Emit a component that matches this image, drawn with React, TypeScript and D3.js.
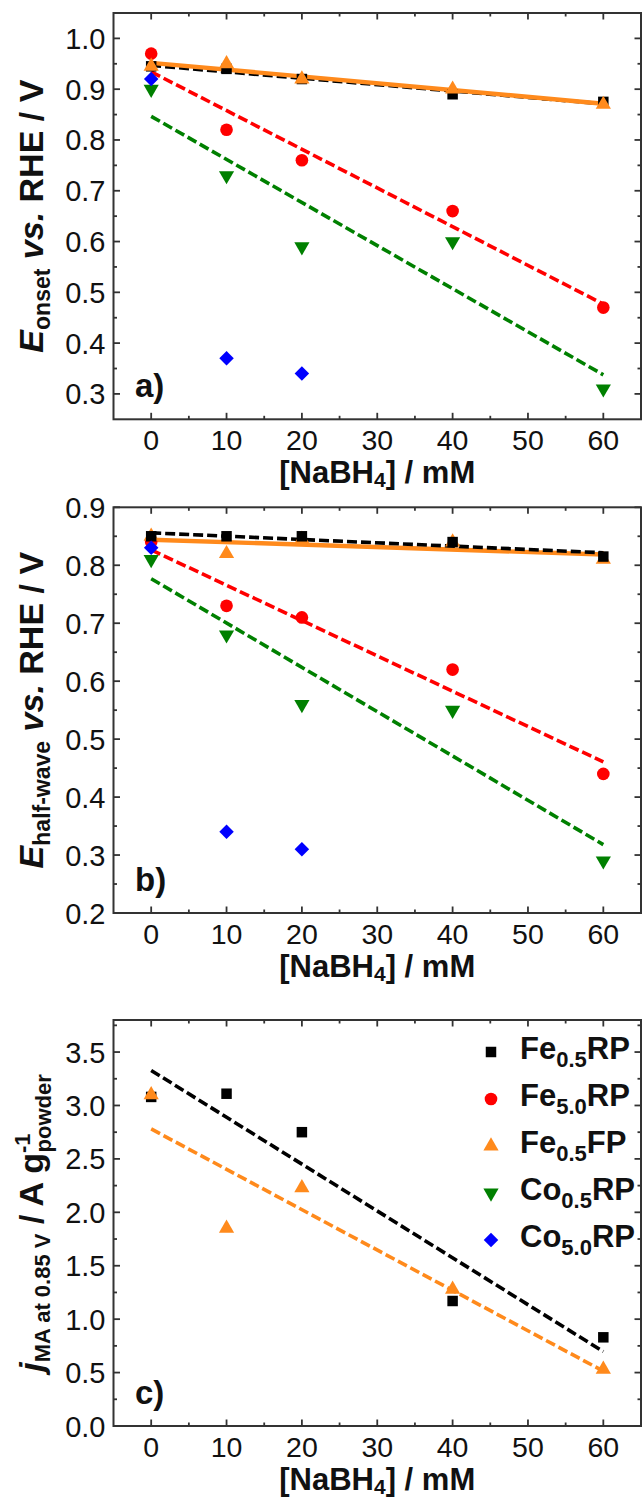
import React from "react";
import * as d3 from "d3";

// ---------- data ----------
const concentrations = [0, 10, 20, 40, 60];
const concentrationsCo50 = [0, 10, 20];

// a) onset potential (V vs RHE)
const onsetFe05RP = [0.945, 0.94, 0.92, 0.89, 0.875];
const onsetFe50RP = [0.97, 0.82, 0.76, 0.66, 0.47];
const onsetFe05FP = [0.945, 0.95, 0.92, 0.9, 0.87];
const onsetCo05RP = [0.9, 0.73, 0.59, 0.6, 0.31];
const onsetCo50RP = [0.92, 0.37, 0.34];

// b) half-wave potential (V vs RHE)
const halfFe05RP = [0.85, 0.85, 0.85, 0.84, 0.815];
const halfFe50RP = [0.84, 0.73, 0.71, 0.62, 0.44];
const halfFe05FP = [0.85, 0.82, 0.845, 0.84, 0.81];
const halfCo05RP = [0.81, 0.68, 0.56, 0.55, 0.29];
const halfCo50RP = [0.83, 0.34, 0.31];

// c) mass activity at 0.85 V (A/g)
const massFe05RP = [3.08, 3.11, 2.75, 1.17, 0.83];
const massFe05FP = [3.1, 1.85, 2.23, 1.28, 0.53];

const xTicks = [0, 10, 20, 30, 40, 50, 60];
const xMinorTicks = [5, 15, 25, 35, 45, 55];
const yTicksA = [0.3, 0.4, 0.5, 0.6, 0.7, 0.8, 0.9, 1.0];
const yMinorA = [0.35, 0.45, 0.55, 0.65, 0.75, 0.85, 0.95];
const yTicksB = [0.2, 0.3, 0.4, 0.5, 0.6, 0.7, 0.8, 0.9];
const yMinorB = [0.25, 0.35, 0.45, 0.55, 0.65, 0.75, 0.85];
const yTicksC = [0, 0.5, 1.0, 1.5, 2.0, 2.5, 3.0, 3.5];
const yMinorC = [0.25, 0.75, 1.25, 1.75, 2.25, 2.75, 3.25, 3.75];

const legendNames = [
  ["Fe", "0.5", "RP"],
  ["Fe", "5.0", "RP"],
  ["Fe", "0.5", "FP"],
  ["Co", "0.5", "RP"],
  ["Co", "5.0", "RP"],
];

// ---------- styles ----------
const FONT = "'Liberation Sans', Arial, Helvetica, sans-serif";
const C = {
  black: "#000000",
  red: "#ff0000",
  orange: "#ff8a1c",
  green: "#008000",
  blue: "#0000ff",
};
const AXIS = "#333333";

type Shape = "square" | "circle" | "tri" | "tridown" | "diamond";
const shapeOf: Record<Shape, { type: d3.SymbolType; size: number; rot: number }> = {
  square: { type: d3.symbolSquare, size: 110, rot: 0 },
  circle: { type: d3.symbolCircle, size: 125, rot: 0 },
  tri: { type: d3.symbolTriangle, size: 100, rot: 0 },
  tridown: { type: d3.symbolTriangle, size: 100, rot: 180 },
  diamond: { type: d3.symbolSquare, size: 105, rot: 45 },
};

const legendStyle: { shape: Shape; color: string }[] = [
  { shape: "square", color: C.black },
  { shape: "circle", color: C.red },
  { shape: "tri", color: C.orange },
  { shape: "tridown", color: C.green },
  { shape: "diamond", color: C.blue },
];

// ---------- layout ----------
const W = 643;
const H = 1498;
const LEFT = 113.5;
const RIGHT = 641;
const xScale = d3.scaleLinear().domain([-5, 65]).range([LEFT, RIGHT]);

function fit(xs: number[], ys: number[]) {
  const mx = d3.mean(xs)!;
  const my = d3.mean(ys)!;
  const sxy = d3.sum(xs, (x, i) => (x - mx) * (ys[i] - my));
  const sxx = d3.sum(xs, (x) => (x - mx) * (x - mx));
  const slope = sxy / sxx;
  const icpt = my - slope * mx;
  const ext = d3.extent(xs) as [number, number];
  return ext.map((x) => [x, icpt + slope * x] as [number, number]);
}

function Marker({ shape, color, x, y }: { shape: Shape; color: string; x: number; y: number }) {
  const s = shapeOf[shape];
  const d = d3.symbol().type(s.type).size(s.size)()!;
  return <path d={d} fill={color} transform={`translate(${x},${y}) rotate(${s.rot})`} />;
}

interface Series {
  xs: number[];
  ys: number[];
  shape: Shape;
  color: string;
}
interface FitLine {
  xs: number[];
  ys: number[];
  color: string;
  dashed: boolean;
}

function Panel({
  top,
  bottom,
  yDomain,
  yTicks,
  yMinor,
  yFmt,
  series,
  fits,
  label,
  yTitle,
  children,
}: {
  top: number;
  bottom: number;
  yDomain: [number, number];
  yTicks: number[];
  yMinor: number[];
  yFmt: (v: number) => string;
  series: Series[];
  fits: FitLine[];
  label: string;
  yTitle: React.ReactNode;
  children?: React.ReactNode;
}) {
  const y = d3.scaleLinear().domain(yDomain).range([bottom, top]);
  const line = d3
    .line<[number, number]>()
    .x((d) => xScale(d[0]))
    .y((d) => y(d[1]));
  const MAJ = 6.5;
  const MIN = 3.5;
  const cy = (top + bottom) / 2;
  return (
    <g>
      {/* fit lines */}
      {fits.map((f, i) => (
        <path
          key={"f" + i}
          d={line(fit(f.xs, f.ys))!}
          fill="none"
          stroke={f.color}
          strokeWidth={f.dashed ? 3.6 : 4.4}
          strokeDasharray={f.dashed ? "10,4" : undefined}
        />
      ))}
      {/* markers */}
      {series.map((s, i) =>
        s.xs.map((xv, j) => (
          <Marker key={`m${i}-${j}`} shape={s.shape} color={s.color} x={xScale(xv)} y={y(s.ys[j])} />
        ))
      )}
      {/* frame */}
      <rect x={LEFT} y={top} width={RIGHT - LEFT} height={bottom - top} fill="none" stroke={AXIS} strokeWidth={2} />
      {/* x ticks */}
      {xTicks.map((t) => (
        <g key={"xt" + t} stroke={AXIS} strokeWidth={1.8}>
          <line x1={xScale(t)} x2={xScale(t)} y1={bottom} y2={bottom - MAJ} />
          <line x1={xScale(t)} x2={xScale(t)} y1={top} y2={top + MAJ} />
        </g>
      ))}
      {xMinorTicks.map((t) => (
        <g key={"xm" + t} stroke={AXIS} strokeWidth={1.8}>
          <line x1={xScale(t)} x2={xScale(t)} y1={bottom} y2={bottom - MIN} />
          <line x1={xScale(t)} x2={xScale(t)} y1={top} y2={top + MIN} />
        </g>
      ))}
      {/* y ticks */}
      {yTicks.map((t) => (
        <g key={"yt" + t} stroke={AXIS} strokeWidth={1.8}>
          <line x1={LEFT} x2={LEFT + MAJ} y1={y(t)} y2={y(t)} />
          <line x1={RIGHT} x2={RIGHT - MAJ} y1={y(t)} y2={y(t)} />
        </g>
      ))}
      {yMinor.map((t) => (
        <g key={"ym" + t} stroke={AXIS} strokeWidth={1.8}>
          <line x1={LEFT} x2={LEFT + MIN} y1={y(t)} y2={y(t)} />
          <line x1={RIGHT} x2={RIGHT - MIN} y1={y(t)} y2={y(t)} />
        </g>
      ))}
      {/* tick labels */}
      {xTicks.map((t) => (
        <text key={"xl" + t} x={xScale(t)} y={bottom + 31} textAnchor="middle" fontSize={28.5} fontFamily={FONT} fill="#111">
          {t}
        </text>
      ))}
      {yTicks.map((t) => (
        <text key={"yl" + t} x={LEFT - 8} y={y(t) + 10.5} textAnchor="end" fontSize={29} fontFamily={FONT} fill="#111">
          {yFmt(t)}
        </text>
      ))}
      {/* x title */}
      <text x={(LEFT + RIGHT) / 2} y={bottom + 64} textAnchor="middle" fontSize={31} fontWeight="bold" fontFamily={FONT} fill="#111">
        [NaBH
        <tspan fontSize={21} dy={4}>
          4
        </tspan>
        <tspan dy={-4}>] / mM</tspan>
      </text>
      {/* y title */}
      <text
        transform={`translate(43,${cy}) rotate(-90)`}
        textAnchor="middle"
        fontSize={34}
        fontWeight="bold"
        fontFamily={FONT}
        fill="#111"
      >
        {yTitle}
      </text>
      {/* panel label */}
      <text x={135} y={bottom - 22} fontSize={33} fontWeight="bold" fontFamily={FONT} fill="#111">
        {label}
      </text>
      {children}
    </g>
  );
}

export default function App() {
  const f1 = d3.format(".1f");
  const seriesA: Series[] = [
    { xs: concentrations, ys: onsetCo05RP, shape: "tridown", color: C.green },
    { xs: concentrations, ys: onsetFe50RP, shape: "circle", color: C.red },
    { xs: concentrations, ys: onsetFe05RP, shape: "square", color: C.black },
    { xs: concentrations, ys: onsetFe05FP, shape: "tri", color: C.orange },
    { xs: concentrationsCo50, ys: onsetCo50RP, shape: "diamond", color: C.blue },
  ];
  const fitsA: FitLine[] = [
    { xs: concentrations, ys: onsetFe05RP, color: C.black, dashed: true },
    { xs: concentrations, ys: onsetFe50RP, color: C.red, dashed: true },
    { xs: concentrations, ys: onsetCo05RP, color: C.green, dashed: true },
    { xs: concentrations, ys: onsetFe05FP, color: C.orange, dashed: false },
  ];
  const seriesB: Series[] = [
    { xs: concentrations, ys: halfCo05RP, shape: "tridown", color: C.green },
    { xs: concentrations, ys: halfFe50RP, shape: "circle", color: C.red },
    { xs: concentrations, ys: halfFe05FP, shape: "tri", color: C.orange },
    { xs: concentrations, ys: halfFe05RP, shape: "square", color: C.black },
    { xs: concentrationsCo50, ys: halfCo50RP, shape: "diamond", color: C.blue },
  ];
  const fitsB: FitLine[] = [
    { xs: concentrations, ys: halfFe05FP, color: C.orange, dashed: false },
    { xs: concentrations, ys: halfFe05RP, color: C.black, dashed: true },
    { xs: concentrations, ys: halfFe50RP, color: C.red, dashed: true },
    { xs: concentrations, ys: halfCo05RP, color: C.green, dashed: true },
  ];
  const seriesC: Series[] = [
    { xs: concentrations, ys: massFe05RP, shape: "square", color: C.black },
    { xs: concentrations, ys: massFe05FP, shape: "tri", color: C.orange },
  ];
  const fitsC: FitLine[] = [
    { xs: concentrations, ys: massFe05RP, color: C.black, dashed: true },
    { xs: concentrations, ys: massFe05FP, color: C.orange, dashed: true },
  ];

  const legendY = d3.scaleLinear().domain([0, 4]).range([1052, 1240]);

  return (
    <svg width={W} height={H} style={{ position: "absolute", left: 0, top: 0, background: "#fff" }}>
      <rect width={W} height={H} fill="#fff" />
      <Panel
        top={13}
        bottom={419.3}
        yDomain={[0.25, 1.05]}
        yTicks={yTicksA}
        yMinor={yMinorA}
        yFmt={f1}
        series={seriesA}
        fits={fitsA}
        label="a)"
        yTitle={
          <>
            <tspan fontStyle="italic">E</tspan>
            <tspan fontSize={23} dy={7}>
              onset
            </tspan>
            <tspan dy={-7}> </tspan>
            <tspan fontStyle="italic">vs.</tspan>
            <tspan> RHE / V</tspan>
          </>
        }
      />
      <Panel
        top={507.3}
        bottom={913}
        yDomain={[0.2, 0.9]}
        yTicks={yTicksB}
        yMinor={yMinorB}
        yFmt={f1}
        series={seriesB}
        fits={fitsB}
        label="b)"
        yTitle={
          <>
            <tspan fontStyle="italic">E</tspan>
            <tspan fontSize={23} dy={7}>
              half-wave
            </tspan>
            <tspan dy={-7}> </tspan>
            <tspan fontStyle="italic">vs.</tspan>
            <tspan> RHE / V</tspan>
          </>
        }
      />
      <Panel
        top={1020}
        bottom={1426}
        yDomain={[0, 3.8]}
        yTicks={yTicksC}
        yMinor={yMinorC}
        yFmt={f1}
        series={seriesC}
        fits={fitsC}
        label="c)"
        yTitle={
          <>
            <tspan fontStyle="italic">j</tspan>
            <tspan fontSize={22} dy={7}>
              MA at 0.85 V
            </tspan>
            <tspan dy={-7}> / A g</tspan>
            <tspan fontSize={22} dy={-13}>
              -1
            </tspan>
            <tspan fontSize={22} dx={-19} dy={21}>
              powder
            </tspan>
          </>
        }
      >
        {legendNames.map((n, i) => (
          <g key={"lg" + i}>
            <Marker shape={legendStyle[i].shape} color={legendStyle[i].color} x={491} y={legendY(i)} />
            <text x={520} y={legendY(i) + 7} fontSize={31} fontWeight="bold" fontFamily={FONT} fill="#111">
              {n[0]}
              <tspan fontSize={22} dy={8}>
                {n[1]}
              </tspan>
              <tspan dy={-8}>{n[2]}</tspan>
            </text>
          </g>
        ))}
      </Panel>
    </svg>
  );
}
